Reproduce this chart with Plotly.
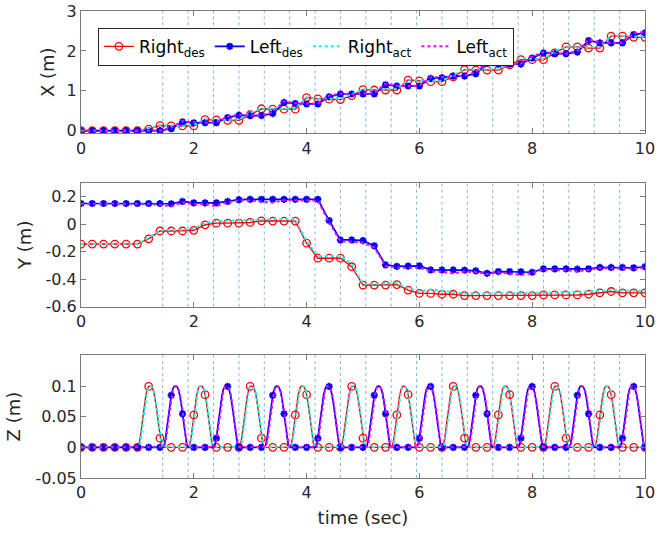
import plotly.graph_objects as go

# ---------------- data ----------------
# sample times of the plotted desired/actual values (every 0.2 s)
TIME = [0.0, 0.2, 0.4, 0.6, 0.8, 1.0, 1.2, 1.4, 1.6, 1.8,
        2.0, 2.2, 2.4, 2.6, 2.8, 3.0, 3.2, 3.4, 3.6, 3.8,
        4.0, 4.2, 4.4, 4.6, 4.8, 5.0, 5.2, 5.4, 5.6, 5.8,
        6.0, 6.2, 6.4, 6.6, 6.8, 7.0, 7.2, 7.4, 7.6, 7.8,
        8.0, 8.2, 8.4, 8.6, 8.8, 9.0, 9.2, 9.4, 9.6, 9.8, 10.0]

RIGHT_DES_X = [0, 0, 0, 0, 0, 0, 0.04, 0.13, 0.12, 0.12,
               0.12, 0.28, 0.27, 0.26, 0.26, 0.40, 0.55, 0.54, 0.54, 0.54,
               0.83, 0.80, 0.79, 0.78, 0.88, 1.03, 1.02, 1.02, 1.02, 1.27,
               1.25, 1.23, 1.23, 1.35, 1.53, 1.52, 1.52, 1.52, 1.65, 1.78,
               1.78, 1.78, 1.95, 2.10, 2.10, 2.07, 2.07, 2.37, 2.37, 2.34, 2.34]
LEFT_DES_X = [0, 0, 0, 0, 0, 0, 0, 0, 0.05, 0.22,
              0.20, 0.20, 0.20, 0.33, 0.39, 0.38, 0.38, 0.43, 0.71, 0.68,
              0.67, 0.67, 0.85, 0.92, 0.92, 0.92, 0.92, 1.15, 1.12, 1.12,
              1.12, 1.31, 1.33, 1.37, 1.37, 1.43, 1.70, 1.67, 1.67, 1.67,
              1.82, 1.95, 1.93, 1.93, 1.97, 2.26, 2.20, 2.20, 2.20, 2.41, 2.45]
RIGHT_ACT_X = [0, 0, 0, 0, 0, 0, 0.06, 0.14, 0.13, 0.12,
               0.14, 0.29, 0.28, 0.27, 0.28, 0.45, 0.56, 0.55, 0.55, 0.57,
               0.84, 0.81, 0.80, 0.80, 0.92, 1.04, 1.03, 1.03, 1.05, 1.28,
               1.26, 1.24, 1.25, 1.40, 1.54, 1.53, 1.53, 1.54, 1.70, 1.82,
               1.80, 1.80, 1.99, 2.11, 2.11, 2.09, 2.09, 2.39, 2.38, 2.36, 2.36]
LEFT_ACT_X = [0, 0, 0, 0, 0, 0, 0, 0, 0.08, 0.24,
              0.21, 0.20, 0.21, 0.36, 0.40, 0.38, 0.39, 0.47, 0.74, 0.69,
              0.68, 0.68, 0.88, 0.93, 0.92, 0.93, 0.94, 1.18, 1.13, 1.12,
              1.13, 1.34, 1.34, 1.37, 1.38, 1.47, 1.73, 1.68, 1.67, 1.68,
              1.86, 1.97, 1.94, 1.93, 2.00, 2.29, 2.21, 2.20, 2.21, 2.44, 2.48]

RIGHT_DES_Y = [-0.145, -0.145, -0.145, -0.145, -0.145, -0.145, -0.107, -0.05, -0.05, -0.05,
               -0.045, -0.005, 0.007, 0.007, 0.007, 0.012, 0.024, 0.022, 0.022, 0.022,
               -0.139, -0.248, -0.248, -0.248, -0.31, -0.443, -0.443, -0.443, -0.44, -0.48,
               -0.504, -0.504, -0.51, -0.51, -0.52, -0.52, -0.52, -0.52, -0.52, -0.52,
               -0.52, -0.515, -0.515, -0.515, -0.515, -0.51, -0.50, -0.49, -0.50, -0.50, -0.50]
LEFT_DES_Y = [0.15, 0.15, 0.15, 0.15, 0.15, 0.15, 0.15, 0.15, 0.148, 0.165,
              0.155, 0.155, 0.155, 0.165, 0.178, 0.18, 0.18, 0.18, 0.18, 0.18,
              0.18, 0.18, 0.026, -0.115, -0.115, -0.12, -0.158, -0.297, -0.307, -0.305,
              -0.304, -0.333, -0.333, -0.333, -0.335, -0.34, -0.358, -0.345, -0.345, -0.347,
              -0.35, -0.325, -0.325, -0.325, -0.328, -0.325, -0.315, -0.315, -0.315, -0.318, -0.31]
RIGHT_ACT_Y = [-0.145, -0.145, -0.145, -0.145, -0.145, -0.145, -0.10, -0.045, -0.045, -0.042,
               -0.035, 0.01, 0.022, 0.025, 0.027, 0.03, 0.035, 0.036, 0.037, 0.035,
               -0.125, -0.232, -0.232, -0.23, -0.29, -0.435, -0.435, -0.433, -0.43, -0.465,
               -0.49, -0.475, -0.485, -0.50, -0.505, -0.505, -0.505, -0.50, -0.50, -0.50,
               -0.50, -0.50, -0.498, -0.495, -0.495, -0.49, -0.485, -0.48, -0.485, -0.485, -0.485]
LEFT_ACT_Y = [0.148, 0.148, 0.148, 0.147, 0.147, 0.147, 0.148, 0.14, 0.13, 0.158,
              0.145, 0.148, 0.13, 0.16, 0.172, 0.172, 0.165, 0.155, 0.175, 0.175,
              0.175, 0.17, 0.01, -0.125, -0.128, -0.135, -0.17, -0.305, -0.315, -0.318,
              -0.315, -0.345, -0.345, -0.36, -0.345, -0.35, -0.362, -0.35, -0.36, -0.37,
              -0.355, -0.33, -0.335, -0.335, -0.345, -0.335, -0.32, -0.322, -0.32, -0.325, -0.318]

# swing-foot height: step timing and the bump shape
Z_DT = 0.025                       # resolution of the drawn Z curves (s)
RIGHT_SWING_START = [1.0, 1.9, 2.8, 3.7, 4.6, 5.5, 6.4, 7.3, 8.2, 9.1]
LEFT_SWING_START = [1.45, 2.35, 3.25, 4.15, 5.05, 5.95, 6.85, 7.75, 8.65, 9.55]
Z_BUMP_DES = [0, 0.004, 0.015, 0.033, 0.053, 0.071, 0.085, 0.095, 0.0995, 0.1,
              0.0995, 0.095, 0.086, 0.072, 0.055, 0.034, 0.015, 0.004, 0]
Z_BUMP_ACT = [0, 0.001, 0.008, 0.024, 0.044, 0.064, 0.080, 0.092, 0.098, 0.1,
              0.099, 0.096, 0.089, 0.077, 0.061, 0.041, 0.021, 0.007, 0.001, 0]

# step events (vertical dotted lines)
EVENT_TIMES = [1.45, 1.9, 2.35, 2.8, 3.25, 3.7, 4.15, 4.6, 5.05, 5.5,
               5.95, 6.4, 6.85, 7.3, 7.75, 8.2, 8.65, 9.1, 9.55]

# ---------------- build Z curves from the step timing ----------------
n_fine = int(round(10.0 / Z_DT)) + 1
t_fine = [round(i * Z_DT, 4) for i in range(n_fine)]


def swing_curve(starts, bump):
    z = [0.0] * n_fine
    for s in starts:
        i0 = int(round(s / Z_DT))
        for j, v in enumerate(bump):
            if i0 + j < n_fine:
                z[i0 + j] = v
    return z


RIGHT_DES_Z = swing_curve(RIGHT_SWING_START, Z_BUMP_DES)
LEFT_DES_Z = swing_curve(LEFT_SWING_START, Z_BUMP_DES)
RIGHT_ACT_Z = swing_curve(RIGHT_SWING_START, Z_BUMP_ACT)
LEFT_ACT_Z = swing_curve(LEFT_SWING_START, Z_BUMP_ACT)
step = int(round(0.2 / Z_DT))
t_mark = t_fine[::step]

# ---------------- styles ----------------
RED, BLUE, CYAN, MAGENTA = "#FF0000", "#0000FF", "#00FFFF", "#FF00FF"
FONT = "DejaVu Sans"
AX_COL = "#7a7a7a"
TXT_COL = "#262626"

names = ["Right<sub>des</sub>", "Left<sub>des</sub>",
         "Right<sub>act</sub>", "Left<sub>act</sub>"]

red_marker = dict(symbol="circle-open", size=7.5, color=RED, line=dict(width=1.3, color=RED))
blue_marker = dict(symbol="asterisk-open", size=6, color=BLUE, line=dict(width=2, color=BLUE))

fig = go.Figure()

panels = [
    ("x", "y", RIGHT_DES_X, LEFT_DES_X, RIGHT_ACT_X, LEFT_ACT_X),
    ("x2", "y2", RIGHT_DES_Y, LEFT_DES_Y, RIGHT_ACT_Y, LEFT_ACT_Y),
]
for p, (xa, ya, rd, ld, ra, la) in enumerate(panels):
    leg = (p == 0)
    fig.add_trace(go.Scatter(x=TIME, y=rd, mode="lines+markers", name=names[0],
                             line=dict(color=RED, width=1.4), marker=red_marker,
                             xaxis=xa, yaxis=ya, showlegend=leg))
    fig.add_trace(go.Scatter(x=TIME, y=ld, mode="lines+markers", name=names[1],
                             line=dict(color=BLUE, width=1.7), marker=blue_marker,
                             xaxis=xa, yaxis=ya, showlegend=leg))
    fig.add_trace(go.Scatter(x=TIME, y=ra, mode="lines", name=names[2],
                             line=dict(color=CYAN, width=2, dash="dot"),
                             xaxis=xa, yaxis=ya, showlegend=leg))
    fig.add_trace(go.Scatter(x=TIME, y=la, mode="lines", name=names[3],
                             line=dict(color=MAGENTA, width=2, dash="dot"),
                             xaxis=xa, yaxis=ya, showlegend=leg))

# Z panel: fine curves with markers every 0.2 s
fig.add_trace(go.Scatter(x=t_fine, y=RIGHT_DES_Z, mode="lines", line=dict(color=RED, width=1.4),
                         xaxis="x3", yaxis="y3", showlegend=False))
fig.add_trace(go.Scatter(x=t_mark, y=RIGHT_DES_Z[::step], mode="markers", marker=red_marker,
                         xaxis="x3", yaxis="y3", showlegend=False))
fig.add_trace(go.Scatter(x=t_fine, y=LEFT_DES_Z, mode="lines", line=dict(color=BLUE, width=1.7),
                         xaxis="x3", yaxis="y3", showlegend=False))
fig.add_trace(go.Scatter(x=t_mark, y=LEFT_DES_Z[::step], mode="markers", marker=blue_marker,
                         xaxis="x3", yaxis="y3", showlegend=False))
fig.add_trace(go.Scatter(x=t_fine, y=RIGHT_ACT_Z, mode="lines",
                         line=dict(color=CYAN, width=2, dash="dot"),
                         xaxis="x3", yaxis="y3", showlegend=False))
fig.add_trace(go.Scatter(x=t_fine, y=LEFT_ACT_Z, mode="lines",
                         line=dict(color=MAGENTA, width=2, dash="dot"),
                         xaxis="x3", yaxis="y3", showlegend=False))

# vertical event lines
shapes = []
for xa, ya in [("x", "y"), ("x2", "y2"), ("x3", "y3")]:
    for te in EVENT_TIMES:
        shapes.append(dict(type="line", xref=xa, yref=ya + " domain", x0=te, x1=te, y0=0, y1=1,
                           line=dict(color="#4a9ad4", width=0.7, dash="dot"), layer="below"))

common_x = dict(range=[0, 10], tickvals=[0, 2, 4, 6, 8, 10], ticks="inside", ticklen=5,
                tickcolor=AX_COL, showline=True, linecolor=AX_COL, linewidth=1, mirror="ticks",
                showgrid=False, zeroline=False, automargin=False, ticklabeloverflow="allow",
                tickfont=dict(family=FONT, size=16, color=TXT_COL))
common_y = dict(ticks="inside", ticklen=5, tickcolor=AX_COL, showline=True, linecolor=AX_COL,
                linewidth=1, mirror="ticks", showgrid=False, zeroline=False, automargin=False,
                ticklabeloverflow="allow",
                tickfont=dict(family=FONT, size=16, color=TXT_COL))
title_font = dict(family=FONT, size=18, color=TXT_COL)

fig.update_layout(
    width=656, height=533,
    margin=dict(l=81, r=11, t=11, b=55, autoexpand=False),
    paper_bgcolor="white", plot_bgcolor="white",
    font=dict(family=FONT, color=TXT_COL),
    shapes=shapes,
    xaxis=dict(common_x, anchor="y"),
    xaxis2=dict(common_x, anchor="y2"),
    xaxis3=dict(common_x, anchor="y3", title=dict(text="time (sec)", font=title_font, standoff=10)),
    yaxis=dict(common_y, domain=[0.738, 1.0], range=[-0.066, 3], tickvals=[0, 1, 2, 3],
               ticktext=["0", "1", "2", "3"], anchor="x",
               title=dict(text="X (m)", font=title_font, standoff=7)),
    yaxis2=dict(common_y, domain=[0.367, 0.632], range=[-0.6, 0.3],
                tickvals=[-0.6, -0.4, -0.2, 0, 0.2], ticktext=["-0.6", "-0.4", "-0.2", "0", "0.2"],
                anchor="x2", title=dict(text="Y (m)", font=title_font, standoff=9)),
    yaxis3=dict(common_y, domain=[0.0, 0.263], range=[-0.05, 0.1505],
                tickvals=[-0.05, 0, 0.05, 0.1], ticktext=["-0.05", "0", "0.05", "0.1"],
                anchor="x3", title=dict(text="Z (m)", font=title_font, standoff=10)),
    legend=dict(orientation="h", x=0.03, y=0.964, xanchor="left", yanchor="top",
                bgcolor="white", bordercolor=TXT_COL, borderwidth=1,
                font=dict(family=FONT, size=17, color="#000000"), tracegroupgap=0),
)

# remove the browser's default 8 px page margin so the figure sits at the window origin
fig.write_html("out.html", config={"displayModeBar": False},
               post_script="document.body.style.margin='0px';")
